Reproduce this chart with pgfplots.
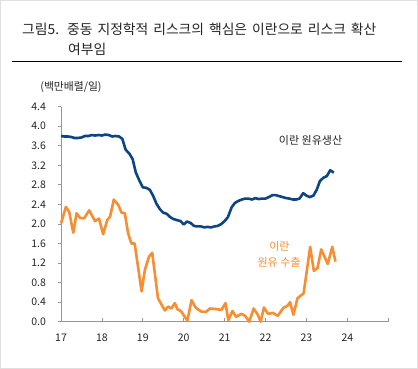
\documentclass[border=0pt]{standalone}
\usepackage{fontspec}
\setmainfont{Noto Sans CJK KR}
\usepackage{pgfplots}
\pgfplotsset{compat=1.18}
\definecolor{prodblue}{RGB}{12,68,132}
\definecolor{exporange}{RGB}{247,142,50}
\definecolor{axgray}{RGB}{150,150,150}
\definecolor{txt}{RGB}{35,35,35}
\begin{document}
\begin{tikzpicture}[x=1pt,y=1pt]
\useasboundingbox (0pt,0pt) rectangle (418pt,369pt);
\draw[gray!25, line width=1pt] (0.5pt,0.5pt) rectangle (417.5pt,368.5pt);
\node[anchor=west,inner sep=0,font=\fontsize{13.8}{16}\selectfont,text=txt] at (22pt,340pt) {그림5.};
\node[anchor=west,inner sep=0,font=\fontsize{13.8}{16}\selectfont,text=txt] at (67pt,340pt) {\spaceskip=0.36em\relax 중동 지정학적 리스크의 핵심은 이란으로 리스크 확산};
\node[anchor=west,inner sep=0,font=\fontsize{13.8}{16}\selectfont,text=txt] at (68pt,320pt) {여부임};
\draw[line width=0.8pt] (12pt,308pt) -- (402pt,308pt);
\node[inner sep=0,font=\fontsize{10.8}{12}\selectfont,text=txt] at (71pt,282pt) {(백만배렬/일)};
\begin{axis}[
  at={(61pt,47.3pt)}, anchor=south west, scale only axis,
  width=327.3pt, height=215pt,
  xmin=17, xmax=25, ymin=0, ymax=4.4,
  axis x line*=bottom, axis y line*=left,
  axis line style={-, draw=axgray, line width=0.8pt},
  tick style={draw=axgray, line width=0.8pt},
  tick align=outside,
  major tick length=3.5pt,
  x tick style={yshift=3.5pt},
  xtick={17,18,19,20,21,22,23,24,25},
  xticklabels={17,18,19,20,21,22,23,24,{}},
  ytick={0,0.4,0.8,1.2,1.6,2.0,2.4,2.8,3.2,3.6,4.0,4.4},
  y tick label style={/pgf/number format/fixed, /pgf/number format/fixed zerofill, /pgf/number format/precision=1, xshift=-8pt},
  /pgf/number format/assume math mode=true,
  ticklabel style={font=\fontsize{10.5}{12}\selectfont, text=txt},
  xticklabel style={yshift=-5pt},
  clip=false,
]
\addplot[color=prodblue, line width=2.6pt, line join=round] table {
x y
17.00 3.80
17.08 3.79
17.17 3.79
17.25 3.78
17.33 3.76
17.42 3.76
17.50 3.77
17.58 3.80
17.67 3.80
17.75 3.82
17.83 3.81
17.92 3.82
18.00 3.81
18.08 3.83
18.17 3.82
18.25 3.79
18.33 3.80
18.42 3.79
18.50 3.74
18.58 3.52
18.67 3.44
18.75 3.33
18.83 3.05
18.92 2.88
19.00 2.75
19.08 2.74
19.17 2.70
19.25 2.58
19.33 2.42
19.42 2.30
19.50 2.23
19.58 2.21
19.67 2.14
19.75 2.10
19.83 2.08
19.92 2.06
20.00 1.99
20.08 2.05
20.17 2.02
20.25 1.96
20.33 1.95
20.42 1.95
20.50 1.93
20.58 1.94
20.67 1.93
20.75 1.95
20.83 1.96
20.92 2.00
21.00 2.06
21.08 2.14
21.17 2.34
21.25 2.43
21.33 2.47
21.42 2.50
21.50 2.52
21.58 2.52
21.67 2.50
21.75 2.53
21.83 2.51
21.92 2.52
22.00 2.52
22.08 2.55
22.17 2.59
22.25 2.59
22.33 2.57
22.42 2.55
22.50 2.53
22.58 2.52
22.67 2.50
22.75 2.50
22.83 2.52
22.92 2.63
23.00 2.58
23.08 2.55
23.17 2.58
23.25 2.70
23.33 2.88
23.42 2.95
23.50 2.98
23.58 3.10
23.67 3.05
};
\addplot[color=exporange, line width=2.6pt, line join=round] table {
x y
17.00 2.01
17.12 2.35
17.20 2.25
17.30 1.82
17.38 2.22
17.47 2.12
17.57 2.12
17.69 2.28
17.83 2.06
17.93 2.11
18.03 1.79
18.13 2.08
18.20 2.15
18.29 2.50
18.40 2.39
18.48 2.23
18.56 2.22
18.64 1.81
18.72 1.60
18.80 1.60
18.97 0.62
19.05 1.06
19.15 1.33
19.23 1.41
19.37 0.48
19.54 0.23
19.62 0.31
19.70 0.27
19.78 0.38
19.85 0.25
19.93 0.22
20.09 0.02
20.19 0.44
20.29 0.29
20.42 0.21
20.54 0.20
20.64 0.27
20.78 0.26
20.92 0.24
21.02 0.38
21.09 0.03
21.19 0.22
21.28 0.10
21.41 0.16
21.50 0.12
21.60 0.00
21.71 0.27
21.81 0.14
21.88 0.00
21.96 0.29
22.06 0.16
22.18 0.18
22.30 0.12
22.43 0.28
22.54 0.33
22.60 0.40
22.68 0.14
22.78 0.48
22.93 0.58
23.09 1.53
23.18 1.04
23.27 1.10
23.36 1.48
23.44 1.33
23.52 1.18
23.63 1.53
23.71 1.23
};
\node[font=\fontsize{11}{13}\selectfont, text=txt] at (axis cs:23.1,3.72) {이란 원유생산};
\node[font=\fontsize{11}{13}\selectfont, text=exporange] at (axis cs:22.34,1.55) {이란};
\node[font=\fontsize{11}{13}\selectfont, text=exporange] at (axis cs:22.33,1.22) {원유 수출};
\end{axis}
\end{tikzpicture}
\end{document}
